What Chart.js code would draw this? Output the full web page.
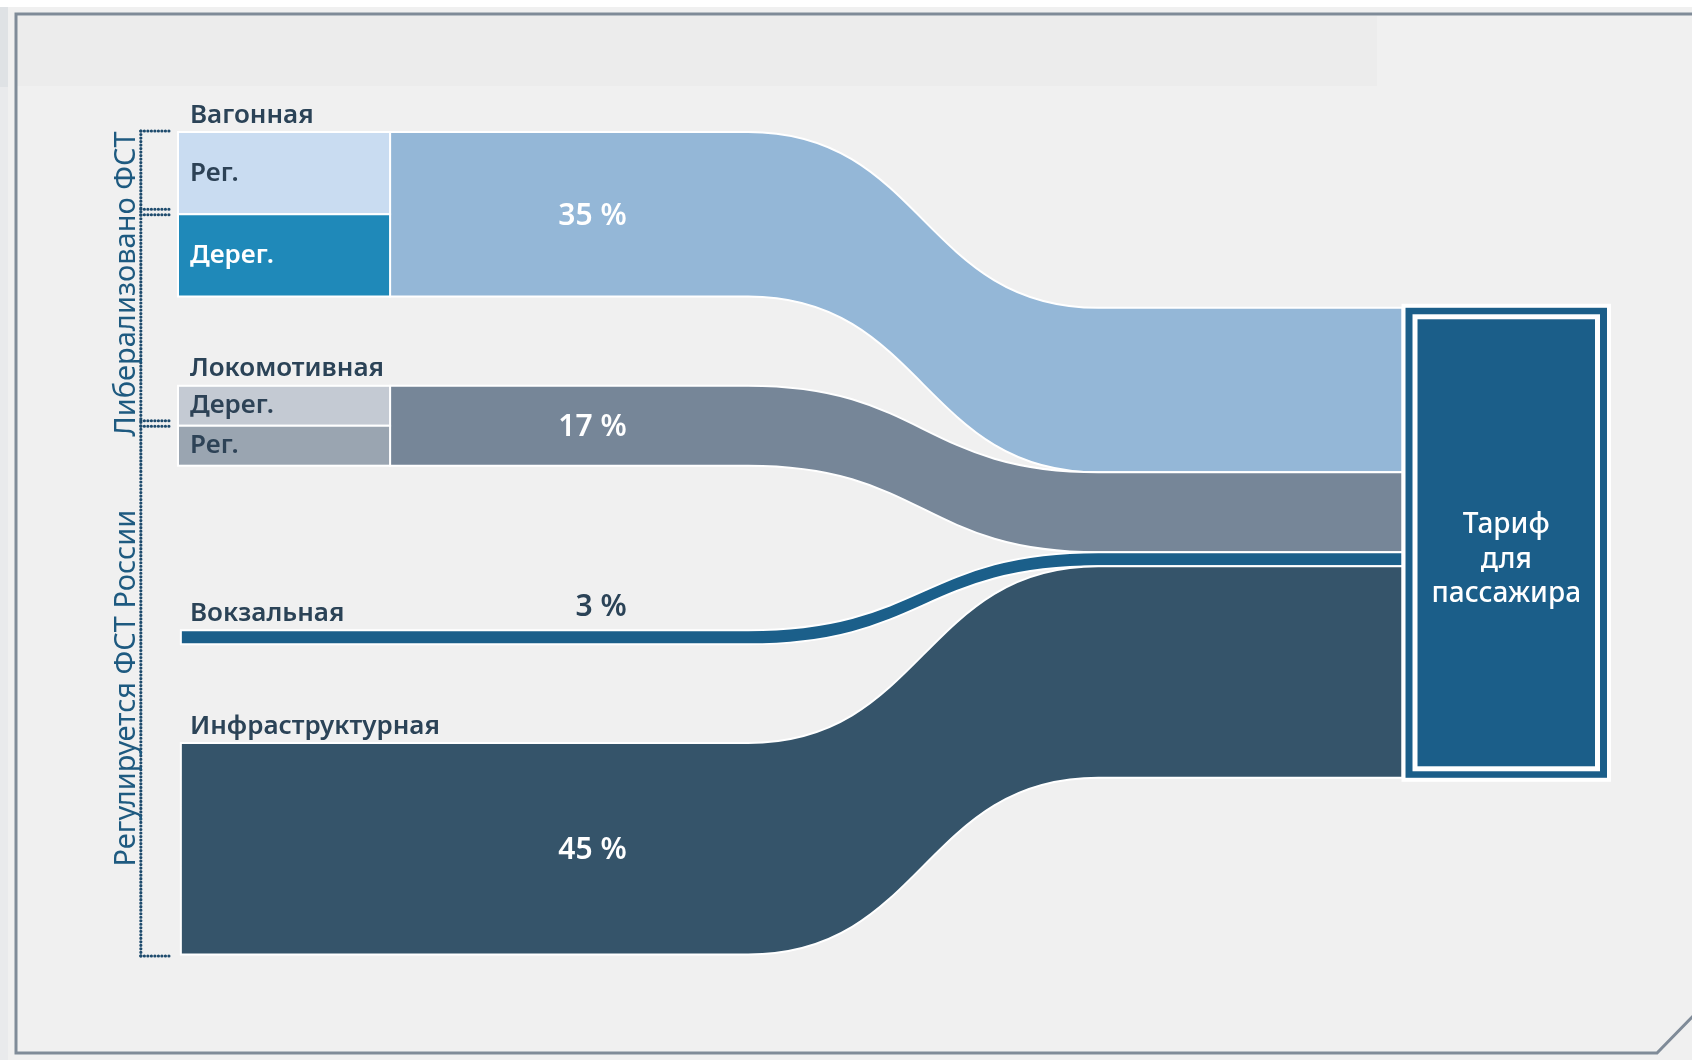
<!DOCTYPE html>
<html>
<head>
<meta charset="utf-8">
<script src="https://cdn.jsdelivr.net/npm/chart.js@4.4.1/dist/chart.umd.min.js"></script>
<style>
  html, body { margin: 0; padding: 0; background: #f0f0f0; }
  canvas { display: block; }
</style>
</head>
<body>
<canvas id="sankey" width="1692" height="1060"></canvas>
<script>
// tariff components, share of passenger tariff (%)
const categories = ['Вагонная', 'Локомотивная', 'Вокзальная', 'Инфраструктурная'];
const shares = [35, 17, 3, 45];
const shareLabels = ['35 %', '17 %', '3 %', '45 %'];
const subLabels = [['Рег.', 'Дерег.'], ['Дерег.', 'Рег.'], [], []];
const subShares = [[17.5, 17.5], [8.5, 8.5], [], []];
const targetLabel = ['Тариф', 'для', 'пассажира'];
const bracketLabels = ['Либерализовано ФСТ', 'Регулируется ФСТ России'];

// layout (value units on y, 0..100 units on x)
const groupGaps = [0, 19, 35, 21];
const targetOffset = 37.4;
const nodeX = [0, 14.84];
const barX0 = 0.2;
const curveX = [39.9, 64.4];
const targetX = [85.9, 100];
const labelX = 0.84;
const pctX = 31.4;
const bracketX = -2.6, tickX = -0.55, sideTextX = -3.0;

const flowColors = ['#94b7d7', '#768698', '#1b5f8a', '#35546a'];
const subColors = [['#c9dcf1', '#1f89b9'], ['#c4cad3', '#9aa5b1']];
const subTextColors = [['#2d4256', '#ffffff'], ['#2d4256', '#2d4256']];
const textDark = '#2b4357';
const FONT = '"Noto Sans", "Open Sans", sans-serif';

// stacking
const leftTop = [], rightTop = [];
let pos = 0, rpos = targetOffset;
shares.forEach((v, i) => {
    pos += groupGaps[i];
    leftTop.push(pos);
    pos += v;
    rightTop.push(rpos);
    rpos += v;
});
const yMax = pos;

function drawFrame(chart) {
    const ctx = chart.ctx;
    const W = chart.width, H = chart.height;
    ctx.save();
    ctx.fillStyle = '#f0f0f0';
    ctx.fillRect(0, 0, W, H);
    ctx.fillStyle = '#ffffff';
    ctx.fillRect(0, 0, W, 7);
    ctx.fillStyle = '#dfe2e5';
    ctx.fillRect(0, 7, 8, 80);
    ctx.fillStyle = '#e9eaec';
    ctx.fillRect(0, 87, 8, H - 87);
    ctx.fillStyle = '#ececec';
    ctx.fillRect(17, 16, 1360, 70);
    ctx.strokeStyle = '#7f8b98';
    ctx.lineWidth = 3;
    ctx.beginPath();
    ctx.moveTo(W, 14);
    ctx.lineTo(16, 14);
    ctx.lineTo(16, 1053);
    ctx.lineTo(1657, 1053);
    ctx.lineTo(1697, 1012);
    ctx.stroke();
    ctx.restore();
}

function dotted(ctx, x0, y0, x1, y1) {
    ctx.beginPath();
    ctx.moveTo(x0, y0);
    ctx.lineTo(x1, y1);
    ctx.stroke();
}

const sankeyPlugin = {
    id: 'sankey',
    beforeDraw(chart) {
        drawFrame(chart);
    },
    afterDraw(chart) {
        const { ctx, scales: { x, y } } = chart;
        const px = v => x.getPixelForValue(v);
        const py = v => y.getPixelForValue(v);
        ctx.save();

        // flows
        shares.forEach((v, i) => {
            const xs = px(subShares[i].length ? nodeX[1] : barX0);
            const c0 = px(curveX[0]), c1 = px(curveX[1]);
            const mid = (c0 + c1) / 2;
            const xe = px(targetX[0]) - 3;
            const s0 = py(leftTop[i]), s1 = py(leftTop[i] + v);
            const t0 = py(rightTop[i]), t1 = py(rightTop[i] + v);
            ctx.beginPath();
            ctx.moveTo(xs, s0);
            ctx.lineTo(c0, s0);
            ctx.bezierCurveTo(mid, s0, mid, t0, c1, t0);
            ctx.lineTo(xe, t0);
            ctx.lineTo(xe, t1);
            ctx.lineTo(c1, t1);
            ctx.bezierCurveTo(mid, t1, mid, s1, c0, s1);
            ctx.lineTo(xs, s1);
            ctx.closePath();
            ctx.fillStyle = flowColors[i];
            ctx.fill();
            ctx.strokeStyle = '#ffffff';
            ctx.lineWidth = 2;
            ctx.stroke();
        });

        // source boxes with sub-parts
        ctx.font = '600 26px ' + FONT;
        ctx.textBaseline = 'middle';
        ctx.textAlign = 'left';
        subShares.forEach((parts, i) => {
            let acc = leftTop[i];
            parts.forEach((p, j) => {
                const top = py(acc), bot = py(acc + p);
                ctx.fillStyle = subColors[i][j];
                ctx.fillRect(px(nodeX[0]), top, px(nodeX[1]) - px(nodeX[0]), bot - top);
                ctx.strokeStyle = '#ffffff';
                ctx.lineWidth = 2;
                ctx.strokeRect(px(nodeX[0]), top, px(nodeX[1]) - px(nodeX[0]), bot - top);
                ctx.fillStyle = subTextColors[i][j];
                ctx.fillText(subLabels[i][j], px(labelX), (top + bot) / 2);
                acc += p;
            });
        });

        // group labels
        ctx.textBaseline = 'alphabetic';
        ctx.fillStyle = textDark;
        categories.forEach((c, i) => {
            ctx.fillText(c, px(labelX), py(leftTop[i]) - 9.5);
        });

        // share labels
        ctx.font = '600 30px ' + FONT;
        ctx.textAlign = 'right';
        ctx.textBaseline = 'middle';
        shares.forEach((v, i) => {
            if (v < 5) {
                ctx.fillStyle = textDark;
                ctx.fillText(shareLabels[i], px(pctX), py(leftTop[i]) - 23);
            } else {
                ctx.fillStyle = '#ffffff';
                ctx.fillText(shareLabels[i], px(pctX), py(leftTop[i] + v / 2) + 2);
            }
        });

        // target node
        const tx0 = px(targetX[0]), tx1 = px(targetX[1]);
        const ty0 = py(rightTop[0]), ty1 = py(rightTop[rightTop.length - 1] + shares[shares.length - 1]);
        ctx.fillStyle = '#ffffff';
        ctx.fillRect(tx0 - 4, ty0 - 4, tx1 - tx0 + 8, ty1 - ty0 + 8);
        ctx.fillStyle = '#1b5e89';
        ctx.fillRect(tx0, ty0, tx1 - tx0, ty1 - ty0);
        ctx.strokeStyle = '#ffffff';
        ctx.lineWidth = 5;
        ctx.strokeRect(tx0 + 9.5, ty0 + 9, tx1 - tx0 - 19, ty1 - ty0 - 18);
        ctx.fillStyle = '#ffffff';
        ctx.font = '500 28px ' + FONT;
        ctx.textAlign = 'center';
        const tc = (ty0 + ty1) / 2 + 17;
        targetLabel.forEach((t, k) => {
            ctx.fillText(t, (tx0 + tx1) / 2, tc + (k - 1) * 34.5);
        });

        // brackets
        const bx = px(bracketX), tx = px(tickX);
        const libEnd = leftTop[1] + subShares[1][0];
        const top = py(0) - 1, bottom = py(yMax) + 1.5;
        ctx.strokeStyle = '#1e4b6d';
        ctx.lineWidth = 3.2;
        ctx.lineCap = 'round';
        ctx.setLineDash([0.01, 3.5]);
        dotted(ctx, bx, top, bx, bottom);
        dotted(ctx, bx, top, tx, top);
        dotted(ctx, bx, bottom, tx, bottom);
        [leftTop[0] + subShares[0][0], libEnd].forEach(b => {
            dotted(ctx, bx, py(b) - 5, tx, py(b) - 5);
            dotted(ctx, bx, py(b) + 0.5, tx, py(b) + 0.5);
        });
        ctx.setLineDash([]);

        ctx.fillStyle = '#1e5a80';
        ctx.font = '400 29px ' + FONT;
        ctx.textAlign = 'center';
        ctx.textBaseline = 'alphabetic';
        const spans = [[0, libEnd], [libEnd, yMax]];
        spans.forEach((s, k) => {
            ctx.save();
            ctx.translate(px(sideTextX), (py(s[0]) + py(s[1])) / 2 + (k === 0 ? 5 : -2));
            ctx.rotate(-Math.PI / 2);
            ctx.fillText(bracketLabels[k], 0, 0);
            ctx.restore();
        });

        ctx.restore();
    }
};

new Chart(document.getElementById('sankey'), {
    type: 'scatter',
    data: { datasets: [{ data: [], pointRadius: 0 }] },
    options: {
        responsive: false,
        animation: false,
        layout: { padding: { left: 178, right: 85, top: 132, bottom: 1060 - 132 - 175 * 4.7 } },
        plugins: { legend: { display: false }, tooltip: { enabled: false } },
        scales: {
            x: { type: 'linear', min: 0, max: 100, display: false },
            y: { type: 'linear', min: 0, max: yMax, reverse: true, display: false }
        }
    },
    plugins: [sankeyPlugin]
});
</script>
</body>
</html>
